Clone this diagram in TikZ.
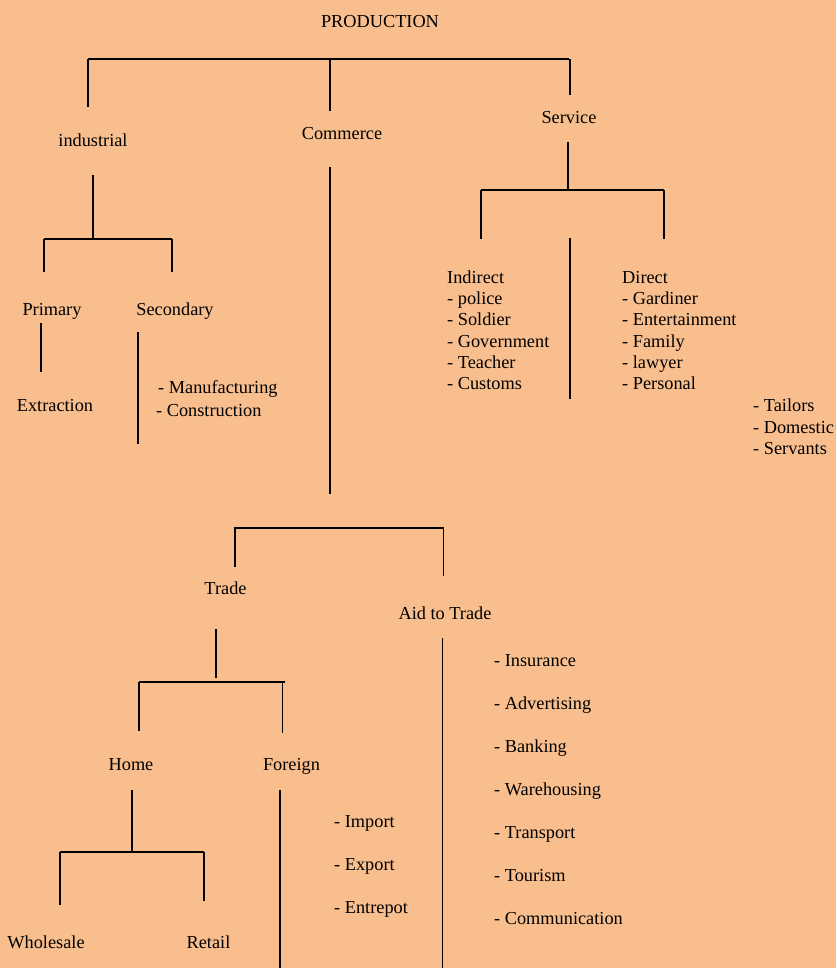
\documentclass[tikz,border=0pt]{standalone}
\usepackage{fontspec}
\setmainfont{Liberation Serif}
\definecolor{peach}{RGB}{249,190,142}

\tikzset{
  lbl/.style={inner sep=0pt, text height=17pt, text depth=2pt,
    font=\fontsize{18.3}{22}\selectfont},
  item/.style={lbl, anchor=west},
  bar/.style={line width=2.5pt},
  stem/.style={line width=1.6pt},
}

\begin{document}
\begin{tikzpicture}[x=1pt, y=-1pt]
  \fill[peach] (0,0) rectangle (836,968);
  \useasboundingbox (0,0) rectangle (836,968);

  % top level
  \node[lbl] (prod) at (380,20) {PRODUCTION};
  \node[lbl] (ind) at (93,139) {industrial};
  \node[lbl] (com) at (342,132) {Commerce};
  \node[lbl] (ser) at (569,116) {Service};
  \coordinate (p1) at (88,59);
  \coordinate (p2) at (569,59);
  \coordinate (p3) at (88,107);
  \coordinate (p4) at (330,111);
  \coordinate (p5) at (570,95);
  \draw[bar] (p1) -- (p2);
  \draw[stem] (p1) -- (p3);
  \draw[stem] (p4 |- p1) -- (p4);
  \draw[stem] (p5 |- p1) -- (p5);

  % industrial
  \node[lbl] (pri) at (52,308) {Primary};
  \node[lbl] (sec) at (175,308) {Secondary};
  \node[lbl] (ext) at (55,404) {Extraction};
  \node[item] (man) at (158,386) {- Manufacturing};
  \node[item] (con) at (156,409) {- Construction};
  \coordinate (i1) at (93,175);
  \coordinate (i2) at (93,239);
  \coordinate (i3) at (44,239);
  \coordinate (i4) at (172,239);
  \coordinate (i5) at (44,272);
  \coordinate (i6) at (172,272);
  \draw[stem] (i1) -- (i2);
  \draw[bar] (i3) -- (i4);
  \draw[stem] (i3) -- (i5);
  \draw[stem] (i4) -- (i6);
  \coordinate (pr1) at (41,323);
  \coordinate (pr2) at (41,372);
  \coordinate (se1) at (138,332);
  \coordinate (se2) at (138,444);
  \draw[stem] (pr1) -- (pr2);
  \draw[stem] (se1) -- (se2);

  % service
  \coordinate (s1) at (568,142);
  \coordinate (s2) at (568,190);
  \coordinate (s3) at (481,190);
  \coordinate (s4) at (664,190);
  \coordinate (s5) at (481,239);
  \coordinate (s6) at (664,239);
  \coordinate (s7) at (570,238);
  \coordinate (s8) at (570,399);
  \draw[stem] (s1) -- (s2);
  \draw[bar] (s3) -- (s4);
  \draw[stem] (s3) -- (s5);
  \draw[stem] (s4) -- (s6);
  \draw[stem] (s7) -- (s8);
  \foreach \t [count=\i from 0] in {Indirect, - police, - Soldier,
      - Government, - Teacher, - Customs}
    \node[item] (indir\i) at (447,276+21.2*\i) {\t};
  \foreach \t [count=\i from 0] in {Direct, - Gardiner, - Entertainment,
      - Family, - lawyer, - Personal}
    \node[item] (dir\i) at (622,276+21.2*\i) {\t};
  \foreach \t [count=\i from 0] in {- Tailors, - Domestic, - Servants}
    \node[item] (pers\i) at (753,404+21.5*\i) {\t};

  % commerce
  \node[lbl] (trd) at (225.5,587) {Trade};
  \node[lbl] (aid) at (445,612) {Aid to Trade};
  \coordinate (c1) at (330,167);
  \coordinate (c2) at (330,494);
  \coordinate (c3) at (234,528);
  \coordinate (c4) at (444,528);
  \coordinate (c5) at (235,567);
  \coordinate (c6) at (443.5,576);
  \draw[stem] (c1) -- (c2);
  \draw[bar] (c3) -- (c4);
  \draw[stem] (c5 |- c3) -- (c5);
  \draw[stem] (c6 |- c3) -- (c6);

  % trade
  \node[lbl] (hom) at (131,763) {Home};
  \node[lbl] (for) at (291.5,763) {Foreign};
  \coordinate (t1) at (216,629);
  \coordinate (t2) at (216,678);
  \coordinate (t3) at (139,682);
  \coordinate (t4) at (285,682);
  \coordinate (t5) at (139,731);
  \coordinate (t6) at (282.5,733);
  \draw[stem] (t1) -- (t2);
  \draw[bar] (t3) -- (t4);
  \draw[stem] (t3) -- (t5);
  \draw[stem] (t6 |- t3) -- (t6);

  % home and foreign
  \node[lbl] (who) at (46,941) {Wholesale};
  \node[lbl] (ret) at (208.5,941) {Retail};
  \coordinate (h1) at (132,790);
  \coordinate (h2) at (132,852);
  \coordinate (h3) at (60,852);
  \coordinate (h4) at (204,852);
  \coordinate (h5) at (60,905);
  \coordinate (h6) at (204,901);
  \draw[stem] (h1) -- (h2);
  \draw[bar] (h3) -- (h4);
  \draw[stem] (h3) -- (h5);
  \draw[stem] (h4) -- (h6);
  \coordinate (f1) at (280,790);
  \coordinate (f2) at (280,968);
  \draw[stem] (f1) -- (f2);
  \foreach \t [count=\i from 0] in {- Import, - Export, - Entrepot}
    \node[item] (fg\i) at (334,820+43*\i) {\t};

  % aid to trade
  \coordinate (a1) at (442.5,638);
  \coordinate (a2) at (442.5,968);
  \draw[stem] (a1) -- (a2);
  \foreach \t [count=\i from 0] in {- Insurance, - Advertising, - Banking,
      - Warehousing, - Transport, - Tourism, - Communication}
    \node[item] (aid\i) at (494,659+43*\i) {\t};
\end{tikzpicture}
\end{document}
